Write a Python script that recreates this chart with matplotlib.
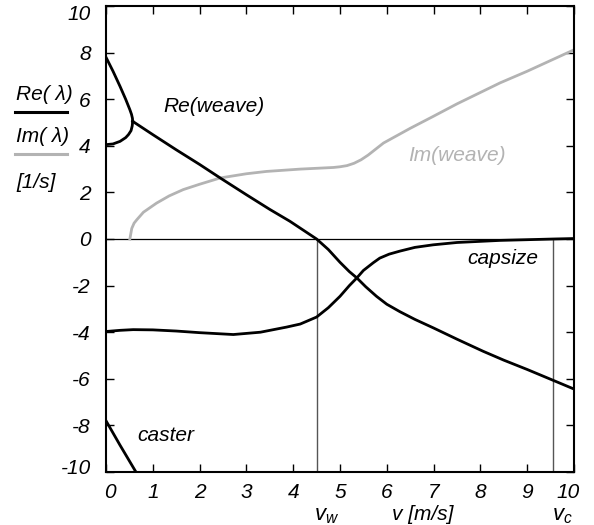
import numpy as np
import matplotlib
matplotlib.use("Agg")
import matplotlib.pyplot as plt
from matplotlib.lines import Line2D
from matplotlib.transforms import ScaledTranslation, blended_transform_factory

plt.rcParams["font.family"] = ["Liberation Sans", "DejaVu Sans"]
plt.rcParams["font.style"] = "italic"
plt.rcParams["font.size"] = 14
plt.rcParams["axes.unicode_minus"] = False
plt.rcParams["mathtext.fontset"] = "custom"
plt.rcParams["mathtext.it"] = "Liberation Sans:italic"
plt.rcParams["mathtext.rm"] = "Liberation Sans:italic"

# two real roots at low speed (merge into weave)
v_up = [0.0, 0.15, 0.3, 0.42, 0.51, 0.545, 0.565, 0.57]
re_up = [7.8, 7.2, 6.55, 6.0, 5.55, 5.35, 5.18, 5.05]
v_lo = [0.0, 0.15, 0.3, 0.42, 0.48, 0.535, 0.56, 0.57]
re_lo = [4.05, 4.08, 4.19, 4.35, 4.48, 4.65, 4.85, 5.05]

# weave, real part
v_weave = [0.57, 1.0, 1.5, 2.0, 2.44, 3.0, 3.5, 3.93, 4.2, 4.5, 4.75, 5.0, 5.2,
           5.36, 5.55, 5.78, 6.0, 6.28, 6.6, 7.0, 7.5, 8.06, 8.5, 9.0, 9.56, 10.0]
re_weave = [5.05, 4.48, 3.83, 3.2, 2.62, 1.9, 1.27, 0.76, 0.4, 0.0, -0.45, -1.0,
            -1.4, -1.67, -2.05, -2.46, -2.8, -3.12, -3.45, -3.82, -4.3, -4.82,
            -5.2, -5.6, -6.07, -6.44]

# weave, imaginary part
v_im = [0.51, 0.55, 0.6, 0.66, 0.8, 1.08, 1.35, 1.65, 2.0, 2.44, 3.0, 3.43, 4.15,
        4.86, 5.0, 5.15, 5.3, 5.45, 5.6, 5.93, 6.5, 6.99, 7.5, 8.42, 9.0, 10.0]
im_weave = [0.0, 0.45, 0.68, 0.83, 1.15, 1.54, 1.85, 2.12, 2.35, 2.62, 2.8, 2.9,
            3.0, 3.07, 3.1, 3.15, 3.25, 3.4, 3.6, 4.12, 4.75, 5.26, 5.8, 6.7,
            7.2, 8.12]

# capsize
v_cap = [0.0, 0.3, 0.58, 1.0, 1.5, 2.0, 2.72, 3.3, 3.86, 4.15, 4.5, 4.75, 5.0,
         5.2, 5.36, 5.5, 5.71, 5.85, 6.05, 6.28, 6.6, 6.99, 7.5, 8.42, 9.0,
         9.56, 10.0]
re_cap = [-3.97, -3.92, -3.89, -3.9, -3.95, -4.02, -4.1, -4.0, -3.78, -3.65,
          -3.35, -2.95, -2.46, -2.0, -1.67, -1.35, -1.02, -0.82, -0.65, -0.52,
          -0.36, -0.25, -0.15, -0.06, -0.03, 0.0, 0.02]

# caster
v_cast = [0.0, 0.3, 0.64, 0.75]
re_cast = [-7.8, -8.85, -10.0, -10.4]

v_w = 4.5
v_c = 9.56

fig = plt.figure(figsize=(5.94, 5.25), dpi=100)
ax = fig.add_axes([106 / 594, 1 - 472 / 525, 468 / 594, 466 / 525])

ax.axhline(0, color="black", lw=0.9, zorder=1)
ax.plot([v_w, v_w], [0, -10], color="#555555", lw=1.0, zorder=1)
ax.plot([v_c, v_c], [0, -10], color="#555555", lw=1.0, zorder=1)

ax.plot(v_im, im_weave, color="#b3b3b3", lw=2.0)
ax.plot(v_up, re_up, color="black", lw=2.0)
ax.plot(v_lo, re_lo, color="black", lw=2.0)
ax.plot(v_weave, re_weave, color="black", lw=2.0)
ax.plot(v_cap, re_cap, color="black", lw=2.0)
ax.plot(v_cast, re_cast, color="black", lw=2.0)

ax.set_xlim(0, 10)
ax.set_ylim(-10, 10)
ax.set_xticks(range(0, 11))
ax.set_yticks(range(-10, 11, 2))
ax.tick_params(direction="in", length=6, width=1, top=True, right=True,
               labelsize=15)
ax.tick_params(axis="x", pad=8)
ax.tick_params(axis="y", pad=11)
for s in ax.spines.values():
    s.set_linewidth(1.5)

# nudge end labels inward a little, like the original
ylabs = ax.get_yticklabels()
ylabs[-1].set_transform(ylabs[-1].get_transform() + ScaledTranslation(0, -6 / 100, fig.dpi_scale_trans))
ylabs[0].set_transform(ylabs[0].get_transform() + ScaledTranslation(0, 5 / 100, fig.dpi_scale_trans))
xlabs = ax.get_xticklabels()
xlabs[0].set_transform(xlabs[0].get_transform() + ScaledTranslation(4 / 100, 0, fig.dpi_scale_trans))
xlabs[-1].set_transform(xlabs[-1].get_transform() + ScaledTranslation(-6 / 100, 0, fig.dpi_scale_trans))

ax.text(2.3, 5.7, "Re(weave)", ha="center", va="center", fontsize=15)
ax.text(7.5, 3.6, "Im(weave)", ha="center", va="center", fontsize=15, color="#b3b3b3")
ax.text(8.48, -0.85, "capsize", ha="center", va="center", fontsize=15)
ax.text(1.28, -8.45, "caster", ha="center", va="center", fontsize=15)

# x-axis labels below tick labels
tr = blended_transform_factory(ax.transData, fig.transFigure)
ax.text(4.72, 1 - 515 / 525, r"$v_w$", transform=tr, ha="center", va="center", fontsize=16)
ax.text(6.77, 1 - 515 / 525, "v [m/s]", transform=tr, ha="center", va="center", fontsize=15)
ax.text(9.75, 1 - 515 / 525, r"$v_c$", transform=tr, ha="center", va="center", fontsize=16)

# left-hand legend
fig.text(16 / 594, 1 - 94 / 525, "Re( λ)", ha="left", va="center", fontsize=15)
fig.add_artist(Line2D([15 / 594, 67 / 594], [1 - 112 / 525] * 2, color="black", lw=2.2))
fig.text(16 / 594, 1 - 137 / 525, "Im( λ)", ha="left", va="center", fontsize=15)
fig.add_artist(Line2D([15 / 594, 67 / 594], [1 - 154 / 525] * 2, color="#b3b3b3", lw=2.2))
fig.text(16 / 594, 1 - 183 / 525, "[1/s]", ha="left", va="center", fontsize=15)

fig.savefig("out.png", dpi=100)
